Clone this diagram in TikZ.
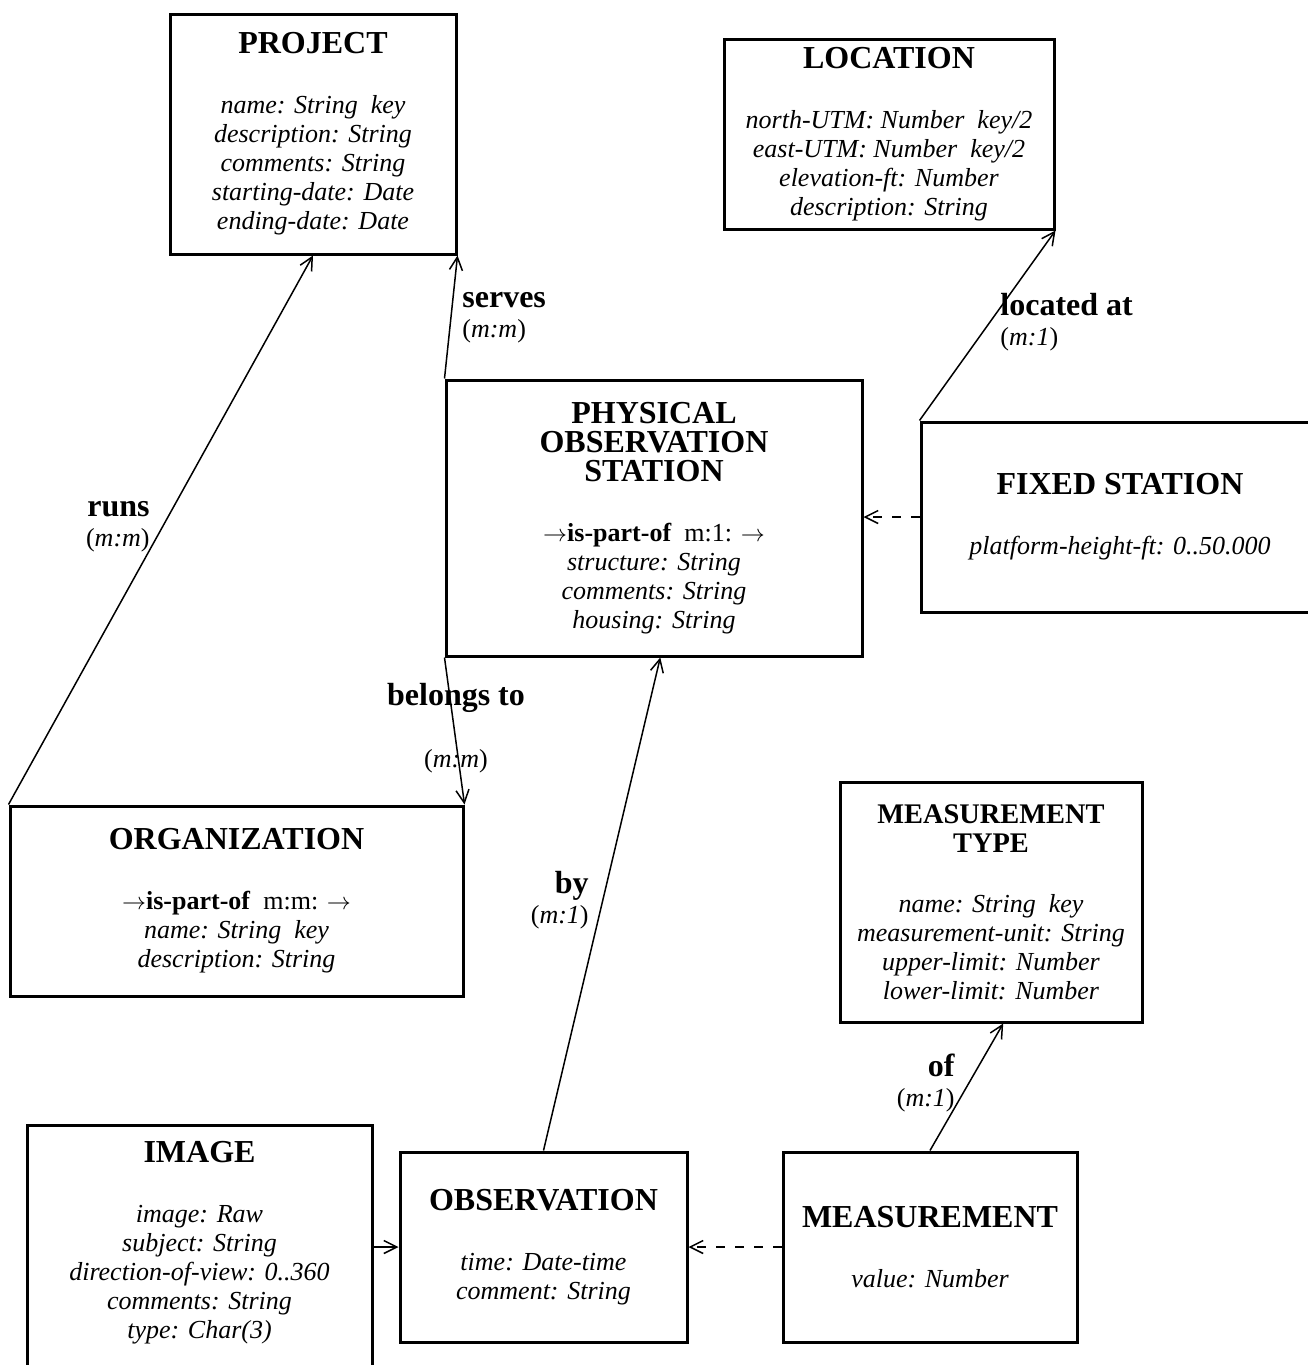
\documentclass[tikz,border=0pt]{standalone}
\usepackage{fontspec}
\setmainfont{Liberation Serif}
\usetikzlibrary{arrows.meta,calc}

\newcommand{\ttl}[1]{{\fontsize{16}{14.5}\selectfont\bfseries #1}}
\newcommand{\sttl}[1]{{\fontsize{14.2}{14.5}\selectfont\bfseries #1}}
\newcommand{\rname}[1]{{\fontsize{16}{15}\selectfont\bfseries #1}}
\newcommand{\card}[1]{(\textit{#1})}
\newcommand{\ispart}[1]{$\rightarrow$\textbf{is-part-of}\ \ #1: $\rightarrow$}

\begin{document}
\begin{tikzpicture}
        [x=0.5pt,y=-0.5pt,
         entity/.style={draw,line width=1.5pt,align=center,inner sep=0pt,
           font=\fontsize{13}{14.5}\selectfont},
         rel/.style={line width=0.75pt,-{Straight Barb[length=6.5pt,width=6.5pt]}},
         sub/.style={rel,dash pattern=on 4.5pt off 5pt},
         rlabel/.style={inner sep=0pt,font=\fontsize{13}{15}\selectfont}]

        \useasboundingbox (0,0) rectangle (1307,1365);

        % entities
        \node[entity,minimum width=143pt,minimum height=120pt] (proj) at (313,134)
          {\ttl{PROJECT}\\[15.5pt]\textit{name: String\ \ key}\\\textit{description: String}\\
           \textit{comments: String}\\\textit{starting-date: Date}\\\textit{ending-date: Date}};
        \node[entity,minimum width=165pt,minimum height=95pt] (loc) at (889,134)
          {\ttl{LOCATION}\\[15.5pt]\textit{north-UTM: Number\ \ key/2}\\\textit{east-UTM: Number\ \ key/2}\\
           \textit{elevation-ft: Number}\\\textit{description: String}};
        \node[entity,minimum width=208pt,minimum height=138pt] (phys) at (654,518)
          {\ttl{PHYSICAL}\\\ttl{OBSERVATION}\\\ttl{STATION}\\[15.5pt]\ispart{m:1}\\
           \textit{structure: String}\\\textit{comments: String}\\\textit{housing: String}};
        \node[entity,minimum width=199pt,minimum height=95pt] (fixed) at (1120,517)
          {\ttl{FIXED STATION}\\[15.5pt]\textit{platform-height-ft: 0..50.000}};
        \node[entity,minimum width=226.5pt,minimum height=95pt] (org) at (236.5,901)
          {\ttl{ORGANIZATION}\\[15.5pt]\ispart{m:m}\\\textit{name: String\ \ key}\\\textit{description: String}};
        \node[entity,minimum width=151pt,minimum height=120pt] (mtype) at (991,902)
          {\sttl{MEASUREMENT}\\\sttl{TYPE}\\[15.5pt]\textit{name: String\ \ key}\\\textit{measurement-unit: String}\\
           \textit{upper-limit: Number}\\\textit{lower-limit: Number}};
        \node[entity,minimum width=172.5pt,minimum height=125pt] (image) at (199.5,1250)
          {\ttl{IMAGE}\\[15.5pt]\textit{image: Raw}\\\textit{subject: String}\\\textit{direction-of-view: 0..360}\\
           \textit{comments: String}\\\textit{type: Char(3)}\\[-4pt]\mbox{}};
        \node[entity,minimum width=143.5pt,minimum height=95pt] (obs) at (543.5,1247)
          {\ttl{OBSERVATION}\\[15.5pt]\textit{time: Date-time}\\\textit{comment: String}};
        \node[entity,minimum width=147pt,minimum height=95pt] (meas) at (930,1247)
          {\ttl{MEASUREMENT}\\[15.5pt]\textit{value: Number}};

        % relationships
        \draw[rel] (org.north west) -- (proj.south);
        \draw[rel] (phys.north west) -- (proj.south east);
        \draw[rel] (fixed.north west) -- (loc.south east);
        \draw[rel] (phys.south west) -- (org.north east);
        \draw[rel] (obs.north) -- ($(phys.south west)!0.515!(phys.south east)$);
        \draw[rel] (meas.north) -- ($(mtype.south west)!0.54!(mtype.south east)$);
        \draw[rel] (image.east |- obs.west) -- (obs.west);
        \draw[sub] (fixed.west) -- (fixed.west -| phys.east);
        \draw[sub] (meas.west) -- (obs.east);

        % relationship labels
        \node[rlabel,align=right,anchor=east] (runs) at (150,527) {\rname{runs}\\\card{m:m}};
        \node[rlabel,align=left,anchor=west] (serves) at (462,318) {\rname{serves}\\\card{m:m}};
        \node[rlabel,align=left,anchor=west] (located) at (1000,322) {\rname{located at}\\\card{m:1}};
        \node[rlabel,align=center] (belongs) at (456,728) {\rname{belongs to}\\[16pt]\card{m:m}};
        \node[rlabel,align=right,anchor=east] (by) at (589,900) {\rname{by}\\\card{m:1}};
        \node[rlabel,align=right,anchor=east] (of) at (955,1083) {\rname{of}\\\card{m:1}};
      \end{tikzpicture}
\end{document}
